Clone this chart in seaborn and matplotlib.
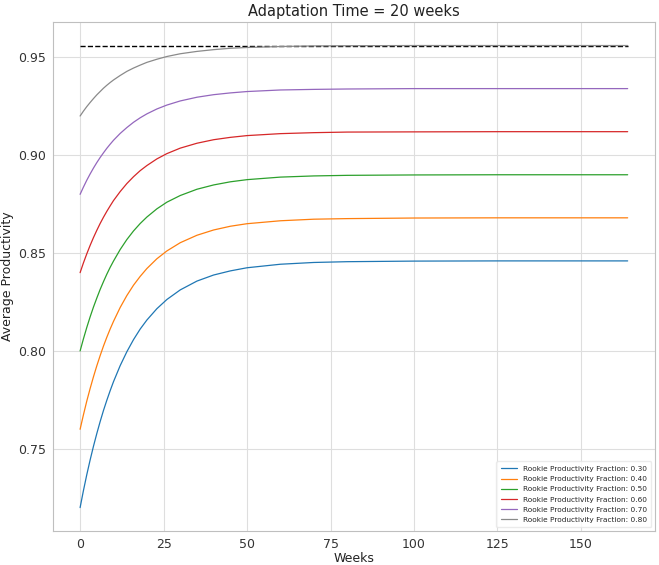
import numpy as np
import pandas as pd
import matplotlib
matplotlib.use("Agg")
import matplotlib.pyplot as plt
import seaborn as sns

weeks = [0, 1, 2, 3, 4, 5, 6, 7, 8, 9, 10, 12, 14, 16, 18, 20,
         23, 26, 30, 35, 40, 45, 50, 60, 70, 80, 100, 125, 164]

fractions = ["0.30", "0.40", "0.50", "0.60", "0.70", "0.80"]

prod_030 = [0.7200, 0.7287, 0.7368, 0.7443, 0.7513, 0.7578, 0.7639, 0.7696, 0.7748, 0.7797, 0.7843,
            0.7925, 0.7996, 0.8058, 0.8112, 0.8158,
            0.8216, 0.8263, 0.8312, 0.8357, 0.8388, 0.8409, 0.8425,
            0.8443, 0.8452, 0.8456, 0.8459, 0.8460, 0.8460]
prod_040 = [0.7600, 0.7674, 0.7744, 0.7808, 0.7868, 0.7924, 0.7976, 0.8025, 0.8070, 0.8112, 0.8151,
            0.8222, 0.8283, 0.8336, 0.8381, 0.8421,
            0.8471, 0.8511, 0.8553, 0.8591, 0.8618, 0.8637, 0.8650,
            0.8665, 0.8673, 0.8676, 0.8679, 0.8680, 0.8680]
prod_050 = [0.8000, 0.8062, 0.8120, 0.8174, 0.8224, 0.8270, 0.8314, 0.8354, 0.8392, 0.8427, 0.8459,
            0.8518, 0.8569, 0.8613, 0.8651, 0.8684,
            0.8726, 0.8760, 0.8794, 0.8826, 0.8848, 0.8864, 0.8875,
            0.8888, 0.8894, 0.8897, 0.8899, 0.8900, 0.8900]
prod_060 = [0.8400, 0.8450, 0.8496, 0.8539, 0.8579, 0.8616, 0.8651, 0.8683, 0.8713, 0.8741, 0.8768,
            0.8814, 0.8855, 0.8890, 0.8921, 0.8947,
            0.8981, 0.9008, 0.9036, 0.9061, 0.9079, 0.9091, 0.9100,
            0.9110, 0.9115, 0.9118, 0.9119, 0.9120, 0.9120]
prod_070 = [0.8800, 0.8837, 0.8872, 0.8904, 0.8934, 0.8962, 0.8988, 0.9012, 0.9035, 0.9056, 0.9076,
            0.9111, 0.9141, 0.9168, 0.9191, 0.9211,
            0.9236, 0.9256, 0.9277, 0.9296, 0.9309, 0.9318, 0.9325,
            0.9333, 0.9336, 0.9338, 0.9340, 0.9340, 0.9340]
prod_080 = [0.9200, 0.9225, 0.9248, 0.9269, 0.9289, 0.9308, 0.9325, 0.9342, 0.9357, 0.9371, 0.9384,
            0.9407, 0.9428, 0.9445, 0.9460, 0.9474,
            0.9490, 0.9504, 0.9518, 0.9530, 0.9539, 0.9546, 0.9550,
            0.9555, 0.9558, 0.9559, 0.9560, 0.9560, 0.9560]

max_productivity = 0.956
ref_weeks = [0, 164]

series = [prod_030, prod_040, prod_050, prod_060, prod_070, prod_080]
labels = [f"Rookie Productivity Fraction: {f}" for f in fractions]

rows = []
for lab, vals in zip(labels, series):
    for w, v in zip(weeks, vals):
        rows.append({"Weeks": w, "Average Productivity": v, "series": lab})
df = pd.DataFrame(rows)

sns.set_style("whitegrid", {"axes.edgecolor": ".75", "grid.color": ".87"})
plt.rcParams["font.family"] = ["DejaVu Sans"]

colors = ["#1f77b4", "#ff7f0e", "#2ca02c", "#d62728", "#9467bd", "#8a8a8a"]

fig = plt.figure(figsize=(6.59, 5.65), dpi=100)
ax = fig.add_axes([0.080, 0.060, 0.914, 0.901])

ax.plot(ref_weeks, [max_productivity] * 2, color="black", linestyle="--", linewidth=1.0)

sns.lineplot(data=df, x="Weeks", y="Average Productivity", hue="series",
             palette=colors, linewidth=0.9, ax=ax)

ax.set_title("Adaptation Time = 20 weeks", fontsize=10.5, pad=4, color="#222222")
ax.set_xlabel("Weeks", fontsize=9, labelpad=1, color="#222222")
ax.set_ylabel("Average Productivity", fontsize=9, labelpad=3, color="#222222")
ax.set_xticks([0, 25, 50, 75, 100, 125, 150])
ax.set_yticks([0.75, 0.80, 0.85, 0.90, 0.95])
ax.tick_params(axis="both", labelsize=9, length=3, width=0.6, color=".75", pad=2,
               labelcolor="#333333")
ax.set_xlim(-8.2, 172.2)
ax.set_ylim(0.708, 0.968)

leg = ax.legend(loc="lower right", fontsize=5.3, frameon=True, handlelength=2.2,
                borderpad=0.6, labelspacing=0.55)
leg.get_frame().set_edgecolor(".9")

fig.savefig("out.png", dpi=100)
